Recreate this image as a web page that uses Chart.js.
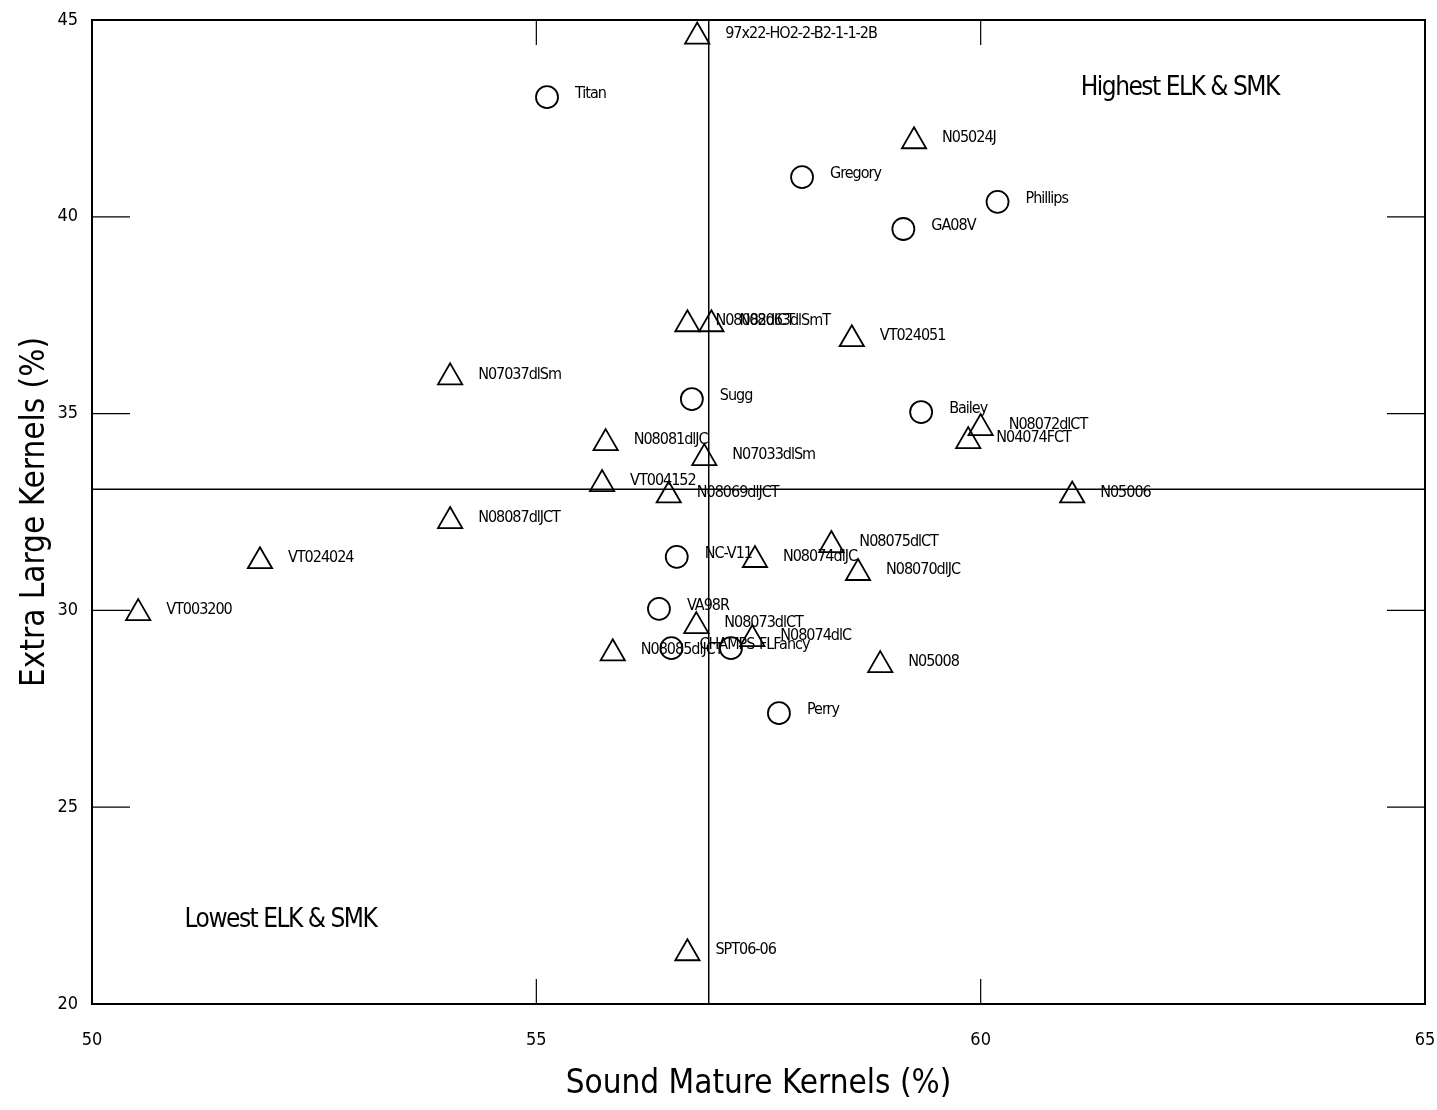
<!DOCTYPE html>
<html>
<head>
<meta charset="utf-8">
<script src="https://cdn.jsdelivr.net/npm/chart.js@4.4.0/dist/chart.umd.min.js"></script>
<style>
  html, body { margin: 0; padding: 0; background: #fff; }
  #wrap { width: 1437px; height: 1110px; }
</style>
</head>
<body>
<div id="wrap"><canvas id="myChart"></canvas></div>
<script>
// cultivars (circles)
const cultNames = ['Titan', 'Gregory', 'Phillips', 'GA08V', 'Sugg', 'Bailey', 'NC-V11', 'VA98R', 'CHAMPS', 'FLFancy', 'Perry'];
const cultSMK = [55.12, 57.99, 60.19, 59.13, 56.75, 59.33, 56.58, 56.38, 56.52, 57.19, 57.73];
const cultELK = [43.04, 41.01, 40.38, 39.69, 35.37, 35.04, 31.36, 30.04, 29.04, 29.04, 27.39];

// breeding lines (triangles)
const lineNames = ['97x22-HO2-2-B2-1-1-2B', 'N05024J', 'N08082dlCT', 'N08063dlSmT', 'VT024051', 'N07037dlSm',
  'N08081dlJC', 'N07033dlSm', 'N08072dlCT', 'N04074FCT', 'VT004152', 'N08069dlJCT', 'N05006', 'N08087dlJCT',
  'VT024024', 'VT003200', 'N08075dlCT', 'N08074dlJC', 'N08070dlJC', 'N08073dlCT', 'N08074dlC', 'N08085dlJCT',
  'N05008', 'SPT06-06'];
const lineSMK = [56.81, 59.25, 56.70, 56.97, 58.55, 54.03, 55.78, 56.89, 60.00, 59.86, 55.74, 56.49, 61.03, 54.03,
  51.89, 50.52, 58.32, 57.46, 58.62, 56.80, 57.43, 55.86, 58.87, 56.70];
const lineELK = [44.58, 41.92, 37.27, 37.27, 36.89, 35.92, 34.25, 33.87, 34.63, 34.30, 33.21, 32.92, 32.92, 32.27,
  31.25, 29.93, 31.66, 31.28, 30.95, 29.60, 29.27, 28.91, 28.61, 21.29];

// mean lines
const meanSMK = 56.94;
const meanELK = 33.08;

const xTicks = [50, 55, 60, 65];
const yTicks = [20, 25, 30, 35, 40, 45];

const notes = [
  { text: 'Highest ELK & SMK', x: 62.24, y: 43.27 },
  { text: 'Lowest ELK & SMK', x: 52.12, y: 22.13 }
];

const FONT = '"DejaVu Sans Condensed", "Liberation Sans Narrow", sans-serif';

const toPts = (xs, ys) => xs.map((x, i) => ({ x: x, y: ys[i] }));

const labelPlugin = {
  id: 'labels',
  afterDatasetsDraw(chart) {
    const ctx = chart.ctx;
    const xs = chart.scales.x, ys = chart.scales.y;
    const area = chart.chartArea;
    ctx.save();
    ctx.fillStyle = '#000';
    ctx.textBaseline = 'middle';
    ctx.textAlign = 'left';
    ctx.font = '16px ' + FONT;
    ctx.letterSpacing = '-1px';
    const put = (names, sx, sy) => {
      names.forEach((n, i) => {
        ctx.fillText(n, xs.getPixelForValue(sx[i]) + 28, ys.getPixelForValue(sy[i]) - 3);
      });
    };
    put(cultNames, cultSMK, cultELK);
    put(lineNames, lineSMK, lineELK);

    ctx.font = '26px ' + FONT;
    ctx.letterSpacing = '-1.5px';
    ctx.textAlign = 'center';
    notes.forEach(n => ctx.fillText(n.text, xs.getPixelForValue(n.x), ys.getPixelForValue(n.y)));

    // frame
    ctx.letterSpacing = '0px';
    ctx.strokeStyle = '#000';
    ctx.lineWidth = 2;
    ctx.strokeRect(area.left, area.top, area.right - area.left, area.bottom - area.top);

    // inner tick marks
    ctx.lineWidth = 1.2;
    ctx.beginPath();
    xTicks.forEach(v => {
      const px = xs.getPixelForValue(v);
      ctx.moveTo(px, area.top); ctx.lineTo(px, area.top + 25);
      ctx.moveTo(px, area.bottom); ctx.lineTo(px, area.bottom - 25);
    });
    yTicks.forEach(v => {
      const py = ys.getPixelForValue(v);
      ctx.moveTo(area.left, py); ctx.lineTo(area.left + 38, py);
      ctx.moveTo(area.right, py); ctx.lineTo(area.right - 38, py);
    });
    ctx.stroke();
    ctx.restore();
  }
};

const ctx = document.getElementById('myChart').getContext('2d');
new Chart(ctx, {
  type: 'scatter',
  data: {
    datasets: [
      {
        label: 'Mean SMK',
        type: 'line',
        data: [{ x: meanSMK, y: 20 }, { x: meanSMK, y: 45 }],
        borderColor: '#000', borderWidth: 1.5, pointRadius: 0, fill: false
      },
      {
        label: 'Mean ELK',
        type: 'line',
        data: [{ x: 50, y: meanELK }, { x: 65, y: meanELK }],
        borderColor: '#000', borderWidth: 1.5, pointRadius: 0, fill: false
      },
      {
        label: 'Cultivars',
        data: toPts(cultSMK, cultELK),
        pointStyle: 'circle', pointRadius: 11, pointHoverRadius: 11,
        borderColor: '#000', backgroundColor: 'rgba(0,0,0,0)', borderWidth: 1.8
      },
      {
        label: 'Breeding lines',
        data: toPts(lineSMK, lineELK),
        pointStyle: 'triangle', pointRadius: 14, pointHoverRadius: 14,
        borderColor: '#000', backgroundColor: 'rgba(0,0,0,0)', borderWidth: 1.8
      }
    ]
  },
  options: {
    responsive: true,
    maintainAspectRatio: false,
    animation: false,
    events: [],
    layout: { autoPadding: false, padding: { top: 20, right: 12, left: 0, bottom: 0 } },
    plugins: { legend: { display: false }, tooltip: { enabled: false } },
    scales: {
      x: {
        type: 'linear', min: 50, max: 65,
        afterFit: s => { s.height = 106; s.paddingLeft = 0; s.paddingRight = 0; },
        afterBuildTicks: s => { s.ticks = xTicks.map(v => ({ value: v })); },
        grid: { display: false, drawTicks: false },
        border: { display: false },
        ticks: { padding: 26, color: '#000', font: { family: FONT, size: 18 }, maxRotation: 0 },
        title: {
          display: true, text: 'Sound Mature Kernels (%)', color: '#000',
          font: { family: FONT, size: 33 }, padding: { top: 0, bottom: 6 }
        }
      },
      y: {
        type: 'linear', min: 20, max: 45,
        afterFit: s => { s.width = 92; s.paddingTop = 0; s.paddingBottom = 0; },
        afterBuildTicks: s => { s.ticks = yTicks.map(v => ({ value: v })); },
        grid: { display: false, drawTicks: false },
        border: { display: false },
        ticks: { padding: 14, color: '#000', font: { family: FONT, size: 18 } },
        title: {
          display: true, text: 'Extra Large Kernels (%)', color: '#000',
          font: { family: FONT, size: 33 }, padding: { top: 16, bottom: 0 }
        }
      }
    }
  },
  plugins: [labelPlugin]
});
</script>
</body>
</html>
